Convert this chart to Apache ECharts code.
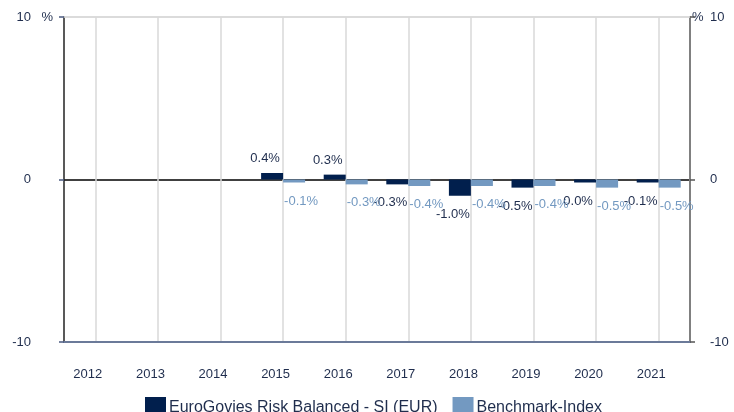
<!DOCTYPE html>
<html>
<head>
<meta charset="utf-8">
<script src="https://cdn.jsdelivr.net/npm/echarts@6/dist/echarts.min.js"></script>
<style>
  html, body { margin: 0; padding: 0; background: #fff; }
  #chart { width: 734px; height: 412px; }
</style>
</head>
<body>
<div id="chart"></div>
<script>
// Jahre
const years = ["2012", "2013", "2014", "2015", "2016", "2017", "2018", "2019", "2020", "2021"];
// Fonds und Benchmark, in %
const fund = [null, null, null, 0.4, 0.3, -0.3, -1.0, -0.5, -0.04, -0.1];
const bench = [null, null, null, -0.1, -0.3, -0.4, -0.4, -0.4, -0.5, -0.5];
const yTicks = [-10, 0, 10];

const navy = "#011f4d";
const steel = "#7399c1";
const txt = "#1f2d4d";
const font = "Liberation Sans, Arial, sans-serif";

function pct(v) {
  let s = v.toFixed(1);
  if (s === "-0.0") s = "0.0";
  return s + "%";
}

function toItems(arr, color, dx) {
  return arr.map(function (v) {
    if (v === null) return null;
    const up = v >= 0;
    return {
      value: v,
      label: {
        show: true,
        position: up ? "top" : "bottom",
        distance: up ? 8 : 12,
        offset: [dx, 0],
        color: color,
        fontSize: 13,
        fontFamily: font,
        formatter: function (p) { return pct(p.value); },
      },
    };
  });
}

const chart = echarts.init(document.getElementById("chart"));

const option = {
  animation: false,
  grid: { left: 64, right: 44, top: 17, bottom: 70 },
  legend: {
    left: 140,
    top: 392,
    icon: "rect",
    itemWidth: 21,
    itemHeight: 21,
    itemGap: 15,
    textStyle: { color: txt, fontSize: 16, fontFamily: font, padding: [0, 0, 0, -2] },
    data: ["EuroGovies Risk Balanced - SI (EUR)", "Benchmark-Index"],
  },
  xAxis: [
    {
      type: "category",
      data: years,
      boundaryGap: true,
      axisLine: { onZero: false, lineStyle: { color: "#6b7a99", width: 2 } },
      axisTick: { show: false },
      splitLine: { show: false },
      axisLabel: {
        color: txt,
        fontSize: 13,
        fontFamily: font,
        margin: 26,
        padding: [0, 15, 0, 0],
      },
    },
    {
      // nur für die senkrechten Linien und die obere Linie
      type: "category",
      data: new Array(21).fill(""),
      boundaryGap: false,
      position: "top",
      axisLine: { show: true, onZero: false, lineStyle: { color: "#d9d9d9", width: 1.5 } },
      axisTick: { show: false },
      axisLabel: { show: false },
      splitLine: {
        show: true,
        interval: function (i) { return i % 2 === 1; },
        lineStyle: { color: "#d9d9d9", width: 1.5 },
      },
    },
  ],
  yAxis: [
    {
      type: "value",
      min: yTicks[0],
      max: yTicks[2],
      interval: 10,
      position: "left",
      name: "%",
      nameLocation: "end",
      nameGap: 0,
      nameTextStyle: {
        color: txt, fontSize: 13, fontFamily: font,
        align: "right", verticalAlign: "middle", padding: [4, 11, 0, 0],
      },
      axisLine: { show: true, lineStyle: { color: "#222", width: 1.5 } },
      axisTick: { show: true, length: 5, lineStyle: { color: "#4a5a80", width: 1.5 } },
      axisLabel: { color: txt, fontSize: 13, fontFamily: font, margin: 33 },
      splitLine: {
        show: true,
        lineStyle: { color: ["#6b7a99", "#000", "#d9d9d9"], width: 1.5 },
      },
    },
    {
      type: "value",
      min: yTicks[0],
      max: yTicks[2],
      interval: 10,
      position: "right",
      name: "%",
      nameLocation: "end",
      nameGap: 0,
      nameTextStyle: {
        color: txt, fontSize: 13, fontFamily: font,
        align: "left", verticalAlign: "middle", padding: [0, 0, 0, 2],
      },
      axisLine: { show: true, lineStyle: { color: "#808080", width: 2 } },
      axisTick: { show: true, length: 5, lineStyle: { color: "#555", width: 1.5 } },
      axisLabel: { color: txt, fontSize: 13, fontFamily: font, margin: 20 },
      splitLine: { show: false },
    },
  ],
  series: [
    {
      name: "EuroGovies Risk Balanced - SI (EUR)",
      type: "bar",
      barWidth: 22,
      barGap: "0%",
      barMinHeight: 3,
      itemStyle: { color: navy },
      data: toItems(fund, txt, -7),
    },
    {
      name: "Benchmark-Index",
      type: "bar",
      barWidth: 22,
      barGap: "0%",
      barMinHeight: 3,
      itemStyle: { color: steel },
      data: toItems(bench, steel, 7),
    },
  ],
};

chart.setOption(option);
</script>
</body>
</html>
